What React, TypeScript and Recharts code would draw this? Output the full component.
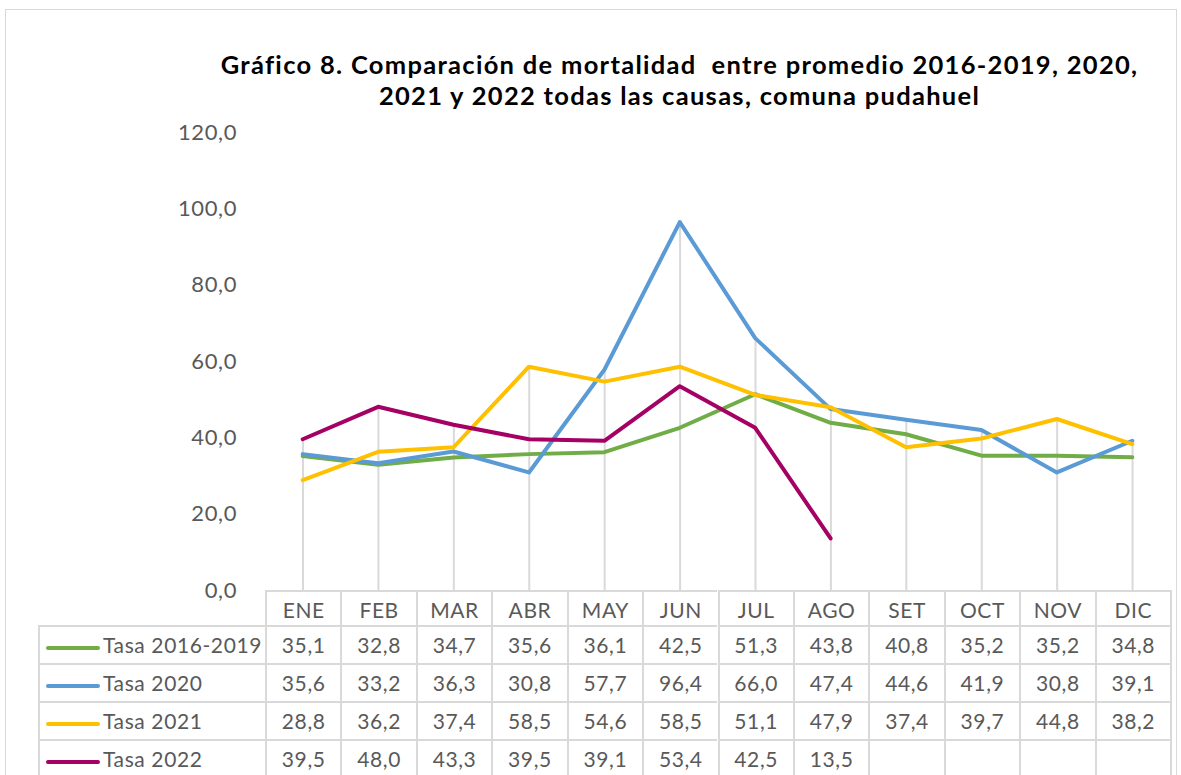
import React from 'react'
import { ComposedChart, Line, Bar, XAxis, YAxis } from 'recharts'

const months = ['ENE', 'FEB', 'MAR', 'ABR', 'MAY', 'JUN', 'JUL', 'AGO', 'SET', 'OCT', 'NOV', 'DIC']
const tasa1619 = [35.1, 32.8, 34.7, 35.6, 36.1, 42.5, 51.3, 43.8, 40.8, 35.2, 35.2, 34.8]
const tasa2020 = [35.6, 33.2, 36.3, 30.8, 57.7, 96.4, 66.0, 47.4, 44.6, 41.9, 30.8, 39.1]
const tasa2021 = [28.8, 36.2, 37.4, 58.5, 54.6, 58.5, 51.1, 47.9, 37.4, 39.7, 44.8, 38.2]
const tasa2022 = [39.5, 48.0, 43.3, 39.5, 39.1, 53.4, 42.5, 13.5, null, null, null, null]
const yTicks = [0, 20, 40, 60, 80, 100, 120]

const series = [
  { key: 't1619', name: 'Tasa 2016-2019', color: '#70ad47', values: tasa1619 },
  { key: 't2020', name: 'Tasa 2020', color: '#5b9bd5', values: tasa2020 },
  { key: 't2021', name: 'Tasa 2021', color: '#ffc000', values: tasa2021 },
  { key: 't2022', name: 'Tasa 2022', color: '#a50064', values: tasa2022 },
]

const data = months.map((m, i) => {
  const row: any = { mes: m }
  const vals: number[] = []
  series.forEach(s => {
    row[s.key] = s.values[i]
    if (s.values[i] != null) vals.push(s.values[i] as number)
  })
  row.drop = Math.max(...vals)
  return row
})

const fmt = (v: number | null) => (v == null ? '' : v.toFixed(1).replace('.', ','))

const W = 1181
const H = 775
const PLOT_L = 265
const PLOT_R = 1170
const PLOT_T = 132
const PLOT_B = 590
const COL_W = (PLOT_R - PLOT_L) / months.length
const LEG_L = 38
const HEAD_H = 35
const ROW_H = 38
const FONT = 'Lato, "Open Sans", sans-serif'
const GRID = '#d9d9d9'
const TXT = '#595959'

export default function App() {
  return (
    <div style={{ position: 'absolute', left: 0, top: 0, width: W, height: H, background: '#fff', overflow: 'hidden', fontFamily: FONT }}>
      <div style={{ position: 'absolute', left: 5, top: 9, width: 1172, height: 820, border: `1px solid ${GRID}`, boxSizing: 'border-box' }} />
      <div style={{ position: 'absolute', left: 0, width: W, top: 49, textAlign: 'center', paddingLeft: 178, boxSizing: 'border-box', fontWeight: 700, fontSize: 25.5, letterSpacing: 1.3, lineHeight: '31px', color: '#000' }}>
        Gráfico 8. Comparación de mortalidad&nbsp; entre promedio 2016-2019, 2020,<br />2021 y 2022 todas las causas, comuna pudahuel
      </div>
      <div style={{ position: 'absolute', left: 0, top: 0 }}>
        <ComposedChart width={W} height={H} data={data} margin={{ top: PLOT_T, right: W - PLOT_R, bottom: H - PLOT_B, left: 0 }}>
          <XAxis dataKey="mes" hide />
          <YAxis width={PLOT_L} domain={[0, 120]} ticks={yTicks} axisLine={false} tickLine={false} tickMargin={22}
            tickFormatter={(v: number) => fmt(v)} tick={{ fill: TXT, fontSize: 22, fontFamily: FONT, letterSpacing: 0.6 }} />
          <Bar dataKey="drop" barSize={2} fill={GRID} isAnimationActive={false} />
          {series.map(s => (
            <Line key={s.key} type="linear" dataKey={s.key} stroke={s.color} strokeWidth={4} dot={false}
              strokeLinejoin="round" strokeLinecap="round" isAnimationActive={false} />
          ))}
        </ComposedChart>
      </div>
      {/* data table */}
      <div style={{ position: 'absolute', left: 0, top: 0, fontSize: 21, letterSpacing: 0.6, color: TXT }}>
        {months.map((m, i) => (
          <div key={m} style={{ position: 'absolute', left: PLOT_L + i * COL_W, top: PLOT_B, width: COL_W, height: HEAD_H, borderLeft: `2px solid ${GRID}`, borderTop: `2px solid ${GRID}`, boxSizing: 'border-box', textAlign: 'center', lineHeight: `${HEAD_H}px` }}>{m}</div>
        ))}
        <div style={{ position: 'absolute', left: PLOT_R, top: PLOT_B, width: 2, height: HEAD_H + ROW_H * 4 + 10, background: GRID }} />
        {series.map((s, r) => {
          const top = PLOT_B + HEAD_H + r * ROW_H
          return (
            <React.Fragment key={s.key}>
              <div style={{ position: 'absolute', left: LEG_L, top, width: PLOT_L - LEG_L, height: ROW_H, borderLeft: `2px solid ${GRID}`, borderTop: `2px solid ${GRID}`, boxSizing: 'border-box', lineHeight: `${ROW_H - 2}px`, whiteSpace: 'nowrap' }}>
                <span style={{ display: 'inline-block', verticalAlign: 'middle', width: 54, height: 4, borderRadius: 2, background: s.color, marginLeft: 6, marginRight: 3 }} />
                {s.name}
              </div>
              {s.values.map((v, i) => (
                <div key={i} style={{ position: 'absolute', left: PLOT_L + i * COL_W, top, width: COL_W, height: ROW_H, borderLeft: `2px solid ${GRID}`, borderTop: `2px solid ${GRID}`, boxSizing: 'border-box', textAlign: 'center', lineHeight: `${ROW_H - 2}px` }}>{fmt(v)}</div>
              ))}
            </React.Fragment>
          )
        })}
      </div>
    </div>
  )
}
